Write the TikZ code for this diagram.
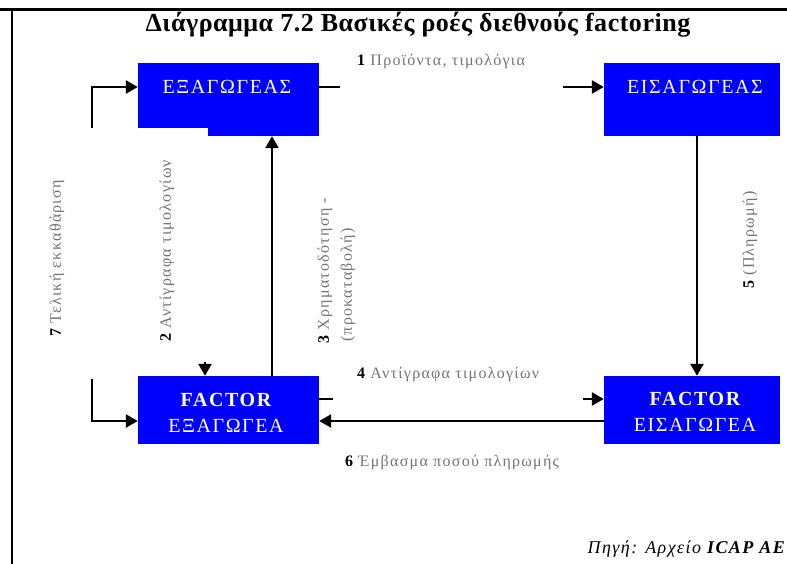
\documentclass[tikz,border=0pt]{standalone}
\usepackage{fontspec}
\setmainfont{Liberation Serif}
\usetikzlibrary{arrows.meta}
\newcommand\stepnum[1]{{\color{black}\bfseries #1}}
\begin{document}
\begin{tikzpicture}[x=1pt,y=-1pt,
  boxbg/.style={fill=blue, draw=none, inner sep=0pt},
  boxtxt/.style={text=white, font=\fontsize{20}{26}\selectfont\addfontfeature{LetterSpace=8}, align=center, inner sep=0pt},
  lbl/.style={text=black!55, font=\fontsize{16}{18}\selectfont\addfontfeature{LetterSpace=8}, inner sep=0pt},
  conn/.style={line width=2.6pt},
  arr/.style={conn, -{Triangle[length=12pt,width=13pt]}}]
\useasboundingbox (0,0) rectangle (787,564);
\draw[line width=3pt] (0,10) -- (787,10);
\draw[line width=2pt] (12,10) -- (12,564);
% title
\node[font=\bfseries\fontsize{26}{28}\selectfont\addfontfeature{LetterSpace=2}, inner sep=0pt] (title) at (418,25) {Διάγραμμα 7.2 Βασικές ροές διεθνούς factoring};
% boxes
\node[boxbg, minimum width=181pt, minimum height=73pt] (ex) at (228.5,99.5) {};
\fill[white] (137,128) rectangle (208,137);
\node[boxtxt] (extxt) at (227,87) {ΕΞΑΓΩΓΕΑΣ};
\node[boxbg, minimum width=176pt, minimum height=73pt] (im) at (692,99.5) {};
\node[boxtxt] (imtxt) at (695,87) {ΕΙΣΑΓΩΓΕΑΣ};
\node[boxbg, minimum width=181pt, minimum height=68pt] (fe) at (228.5,410) {};
\node[boxtxt] (fetxt) at (226,413) {\bfseries FACTOR\\ΕΞΑΓΩΓΕΑ};
\node[boxbg, minimum width=176pt, minimum height=68pt] (fi) at (692,410) {};
\node[boxtxt] (fitxt) at (695,412) {\bfseries FACTOR\\ΕΙΣΑΓΩΓΕΑ};
% coordinates
\coordinate (c1a) at (340,87); \coordinate (c1b) at (563,87);
\coordinate (c2) at (205,362);
\coordinate (c3) at (272,250);
\coordinate (c4a) at (333,399); \coordinate (c4b) at (583,399);
\coordinate (c5) at (697,250);
\coordinate (c6) at (460,421);
\coordinate (c7a) at (92,128); \coordinate (c7b) at (92,87);
\coordinate (c7c) at (92,379); \coordinate (c7d) at (92,421);
% connectors
\draw[conn] (ex.east |- c1a) -- (c1a);
\draw[arr] (c1b) -- (im.west |- c1b);
\draw[arr] (c2) -- (fe.north -| c2);
\draw[arr] (fe.north -| c3) -- (ex.south -| c3);
\draw[conn] (fe.east |- c4a) -- (c4a);
\draw[arr] (c4b) -- (fi.west |- c4b);
\draw[arr] (im.south -| c5) -- (fi.north -| c5);
\draw[arr] (fi.west |- c6) -- (fe.east |- c6);
\draw[arr] (c7a) -- (c7b) -- (ex.west |- c7b);
\draw[arr] (c7c) -- (c7d) -- (fe.west |- c7d);
% labels
\node[lbl, anchor=west] (l1) at (357,62) {\stepnum{1} Προϊόντα, τιμολόγια};
\node[lbl, anchor=west, rotate=90] (l2) at (167,342) {\stepnum{2} Αντίγραφα τιμολογίων};
\node[lbl, anchor=west, rotate=90] (l3a) at (325,344) {\stepnum{3} Χρηματοδότηση -};
\node[lbl, anchor=west, rotate=90] (l3b) at (348,342) {(προκαταβολή)};
\node[lbl, anchor=west] (l4) at (357,375) {\stepnum{4} Αντίγραφα τιμολογίων};
\node[lbl, anchor=west, rotate=90] (l5) at (750,289) {\stepnum{5} (Πληρωμή)};
\node[lbl, anchor=west] (l6) at (345,463) {\stepnum{6} Έμβασμα ποσού πληρωμής};
\node[lbl, anchor=west, rotate=90] (l7) at (57,337) {\stepnum{7} Τελική εκκαθάριση};
\node[anchor=east, font=\itshape\fontsize{18}{20}\selectfont\addfontfeature{LetterSpace=8}, inner sep=0pt] (src) at (785,549) {Πηγή: Αρχείο \textbf{ICAP AE}};
\end{tikzpicture}
\end{document}
